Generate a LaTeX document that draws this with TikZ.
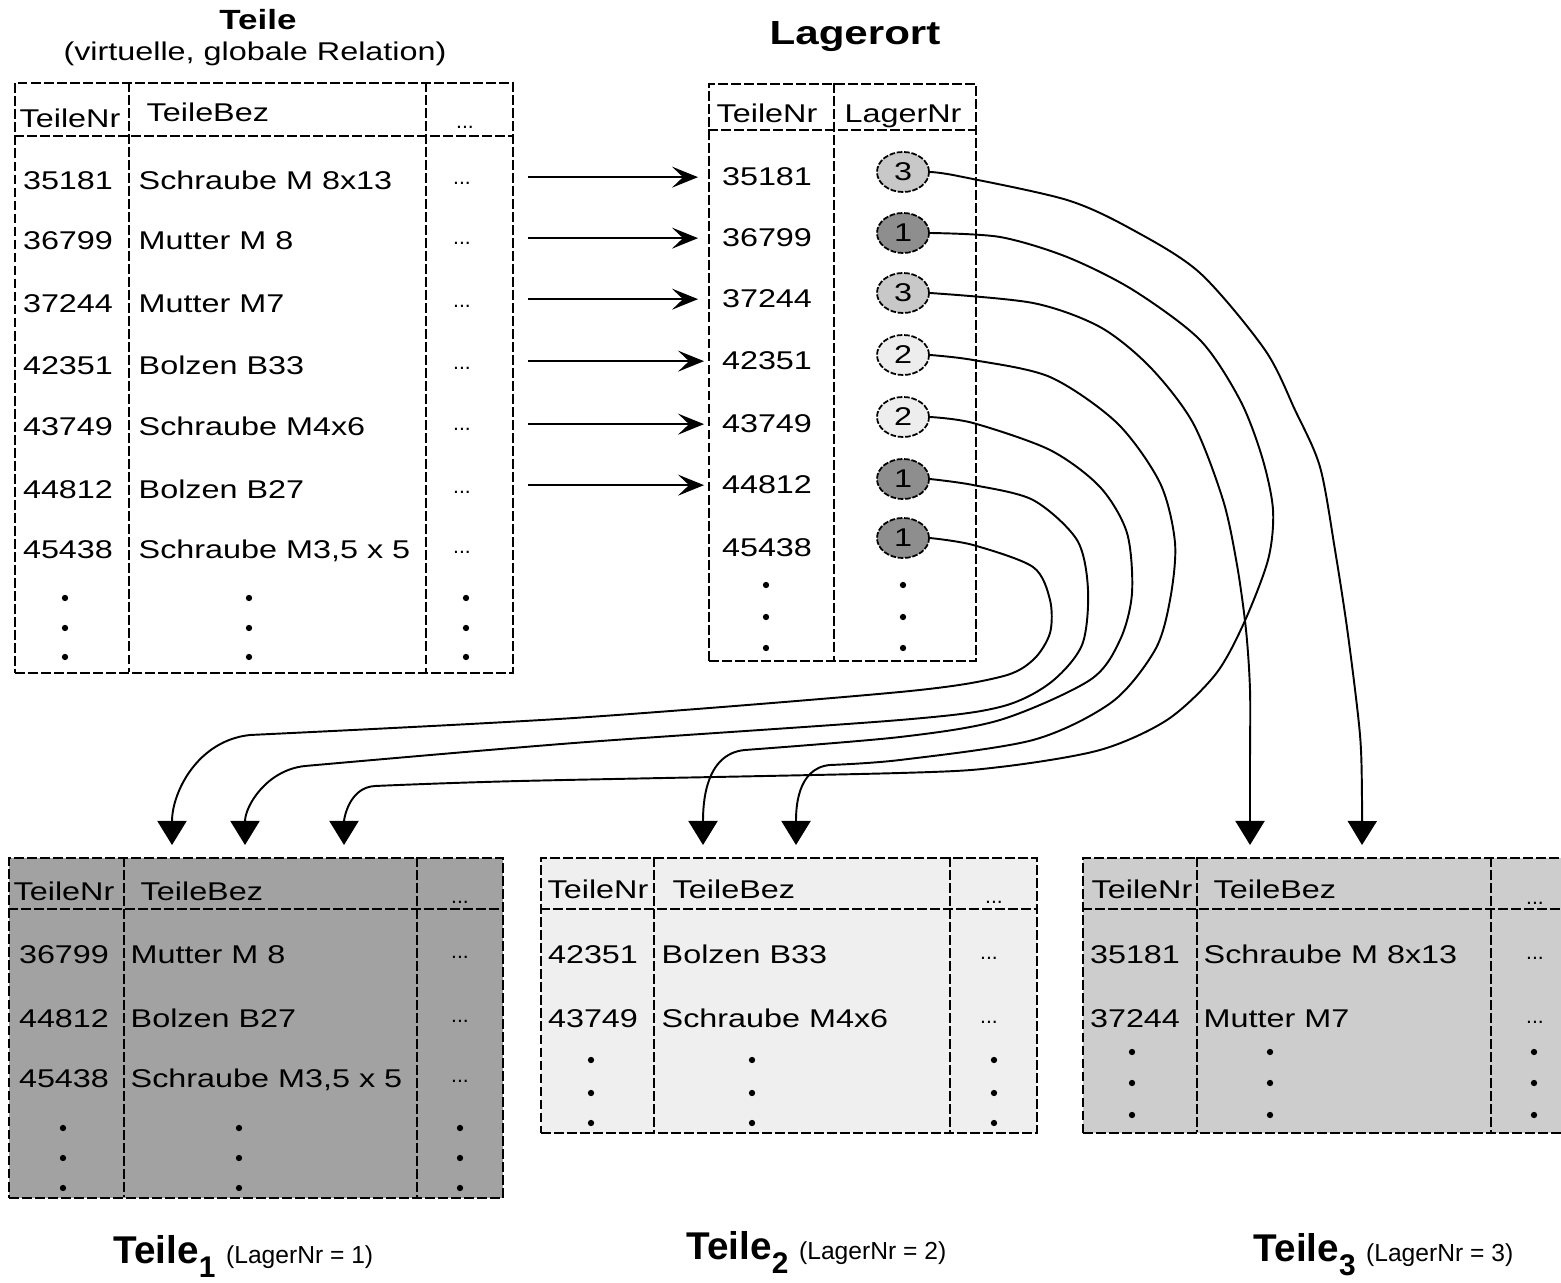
\documentclass[tikz,border=0pt]{standalone}
\usepackage{fontspec}
\setmainfont{Liberation Sans}
\newfontfamily\widesans[FakeStretch=1.26]{Liberation Sans}
\usepackage{tikz}
\usetikzlibrary{arrows.meta,shapes.geometric}
\definecolor{lager1}{HTML}{8E8E8E}
\definecolor{lager2}{HTML}{EDEDED}
\definecolor{lager3}{HTML}{C8C8C8}
\definecolor{fragA}{HTML}{A2A2A2}
\definecolor{fragB}{HTML}{EFEFEF}
\definecolor{fragC}{HTML}{CDCDCD}

\begin{document}
\begin{tikzpicture}[x=0.01cm,y=-0.01cm,
  font=\widesans\fontsize{7.3}{9}\selectfont,
  rel/.style={draw,line width=0.55pt,dash pattern=on 2.8pt off 0.9pt},
  tbl/.style={rel,anchor=north west,inner sep=0pt},
  txt/.style={inner sep=0pt,anchor=base},
  bez/.style={inner sep=0pt,anchor=base west},
  etc/.style={inner sep=0pt,font=\fontsize{6}{7}\selectfont},
  nr/.style={ellipse,draw,line width=0.5pt,dash pattern=on 1.6pt off 0.5pt,minimum width=0.52cm,minimum height=0.4cm,inner sep=0pt},
  lab/.style={inner sep=0pt,anchor=base west,font=\bfseries\fontsize{11}{13}\selectfont},
  arr/.style={-{Stealth[length=2.6mm,width=2.1mm,inset=1.1mm]},line width=0.6pt},
  link/.style={-{Triangle[length=2.4mm,width=2.9mm]},line width=0.55pt}]
\clip (0,0) rectangle (1561,1283);

% globale Relation
\node[font=\widesans\bfseries\fontsize{7.9}{9}\selectfont,inner sep=0pt] (t-teile) at (258,20) {Teile};
\node[inner sep=0pt] (t-virt) at (255,54) {(virtuelle, globale Relation)};
\node[tbl,fill=white,minimum width=4.98cm,minimum height=5.9cm] (teile) at (14,82) {};
\draw[rel] (129,82) -- (129,672) (426,82) -- (426,672) (14,136) -- (512,136);
\node[txt] (h-nr) at (70,128) {TeileNr};
\node[bez] (h-bez) at (146,122) {TeileBez};
\node[etc] (h-etc) at (465,127) {...};
\foreach \y/\nr/\bez [count=\i] in {190/35181/Schraube M 8x13, 250/36799/Mutter M 8, 313/37244/Mutter M7,
    375/42351/Bolzen B33, 436/43749/Schraube M4x6, 499/44812/Bolzen B27, 559/45438/{Schraube M3,5 x 5}}{
  \node[txt] (tnr\i) at (68,\y) {\nr};
  \node[bez] (tbez\i) at (138,\y) {\bez};
  \node[etc] (tetc\i) at (462,\y-7) {...};
}
\foreach \y in {598,628,657} \foreach \x in {65,249,466} \fill (\x,\y) circle[radius=0.9pt];

% Lagerort
\node[font=\widesans\bfseries\fontsize{9.5}{11}\selectfont,inner sep=0pt] (t-lager) at (855,37) {Lagerort};
\node[tbl,fill=white,minimum width=2.67cm,minimum height=5.77cm] (lager) at (708,83) {};
\draw[rel] (834,83) -- (834,660) (708,130) -- (975,130);
\node[txt] (l-nr) at (767,123) {TeileNr};
\node[txt] (l-lnr) at (903,123) {LagerNr};
\foreach \y/\nr/\l/\c/\ey [count=\i] in {186/35181/3/lager3/172, 247/36799/1/lager1/233, 308/37244/3/lager3/293,
    370/42351/2/lager2/355, 433/43749/2/lager2/417, 494/44812/1/lager1/479, 557/45438/1/lager1/538}{
  \node[txt] (lnr\i) at (767,\y) {\nr};
  \node[nr,fill=\c] (lag\i) at (903,\ey) {\l};
}
\foreach \y in {585,617,648} \foreach \x in {766,903} \fill (\x,\y) circle[radius=0.9pt];

% Zuordnung
\foreach \i/\e in {1/0.1,2/0.1,3/0.1,4/0.04,5/0.04,6/0.04}
  \draw[arr,shorten <=0.14cm,shorten >=\e cm] (teile.east |- lnr\i) -- (lager.west |- lnr\i);

% Fragmente
\node[tbl,fill=fragA,minimum width=4.94cm,minimum height=3.4cm] (teile1) at (8,857) {};
\draw[rel] (124,857) -- (124,1197) (417,857) -- (417,1197) (8,909) -- (502,909);
\node[txt] (f1-nr) at (64,900) {TeileNr};
\node[bez] (f1-bez) at (140,900) {TeileBez};
\node[etc] (f1-etc) at (460,902) {...};
\foreach \y/\nr/\bez [count=\i] in {963/36799/Mutter M 8, 1027/44812/Bolzen B27, 1087/45438/{Schraube M3,5 x 5}}{
  \node[txt] (f1nr\i) at (64,\y) {\nr};
  \node[bez] (f1bez\i) at (130,\y) {\bez};
  \node[etc] (f1etc\i) at (460,\y-6) {...};
}
\foreach \y in {1128,1158,1188} \foreach \x in {63,239,460} \fill (\x,\y) circle[radius=0.9pt];

\node[tbl,fill=fragB,minimum width=4.96cm,minimum height=2.75cm] (teile2) at (540,857) {};
\draw[rel] (654,857) -- (654,1132) (950,857) -- (950,1132) (540,909) -- (1036,909);
\node[txt] (f2-nr) at (598,898) {TeileNr};
\node[bez] (f2-bez) at (672,898) {TeileBez};
\node[etc] (f2-etc) at (994,902) {...};
\foreach \y/\nr/\bez [count=\i] in {963/42351/Bolzen B33, 1027/43749/Schraube M4x6}{
  \node[txt] (f2nr\i) at (593,\y) {\nr};
  \node[bez] (f2bez\i) at (661,\y) {\bez};
  \node[etc] (f2etc\i) at (989,\y-5) {...};
}
\foreach \y in {1060,1093,1123} \foreach \x in {591,752,994} \fill (\x,\y) circle[radius=0.9pt];

\node[tbl,fill=fragC,minimum width=5.1cm,minimum height=2.75cm] (teile3) at (1082,857) {};
\draw[rel] (1197,857) -- (1197,1132) (1491,857) -- (1491,1132) (1082,909) -- (1592,909);
\node[txt] (f3-nr) at (1142,898) {TeileNr};
\node[bez] (f3-bez) at (1213,898) {TeileBez};
\node[etc] (f3-etc) at (1535,903) {...};
\foreach \y/\nr/\bez [count=\i] in {963/35181/Schraube M 8x13, 1027/37244/Mutter M7}{
  \node[txt] (f3nr\i) at (1135,\y) {\nr};
  \node[bez] (f3bez\i) at (1203,\y) {\bez};
  \node[etc] (f3etc\i) at (1535,\y-5) {...};
}
\foreach \y in {1052,1083,1115} \foreach \x in {1132,1270,1534} \fill (\x,\y) circle[radius=0.9pt];

\node[lab] (lab1) at (113,1263) {Teile\raisebox{-4pt}{\fontsize{8.5}{9}\selectfont 1}\hspace{3pt}{\mdseries\fontsize{7}{8}\selectfont(LagerNr = 1)}};
\node[lab] (lab2) at (686,1259) {Teile\raisebox{-4pt}{\fontsize{8.5}{9}\selectfont 2}\hspace{3pt}{\mdseries\fontsize{7}{8}\selectfont(LagerNr = 2)}};
\node[lab] (lab3) at (1253,1261) {Teile\raisebox{-4pt}{\fontsize{8.5}{9}\selectfont 3}\hspace{3pt}{\mdseries\fontsize{7}{8}\selectfont(LagerNr = 3)}};

% Verteilung nach LagerNr
\coordinate (to1a) at (172,845);
\coordinate (to1b) at (245,845);
\coordinate (to1c) at (344,845);
\coordinate (to2a) at (703,845);
\coordinate (to2b) at (796,845);
\coordinate (to3a) at (1250,845);
\coordinate (to3b) at (1362,845);
\draw[link] plot[smooth] coordinates {(lag1.east) (958,176) (1067,200) (1133,230) (1200,273) (1265,350) (1295,410)
  (1320,467) (1335,550) (1348,635) (1360,735) (1362,800) (to3b)};
\draw[link] plot[smooth] coordinates {(lag2.east) (1000,237) (1067,257) (1133,290) (1200,340) (1240,400) (1262,457)
  (1273,510) (1268,560) (1243,625) (1215,675) (1167,720) (1100,750) (1000,767) (900,773) (520,781) (375,786)}
  to[out=183,in=90] (to1c);
\draw[link] plot[smooth] coordinates {(lag3.east) (1033,303) (1100,327) (1150,367) (1193,423) (1223,500) (1237,565)
  (1246,630) (1250,690) (1250,760) (to3a)};
\draw[link] plot[smooth] coordinates {(lag4.east) (973,360) (1050,377) (1117,423) (1160,483) (1175,543) (1170,600)
  (1155,650) (1112,702) (1033,740) (900,760) (830,765)} to[out=185,in=90] (to2b);
\draw[link] plot[smooth] coordinates {(lag5.east) (973,423) (1050,450) (1100,487) (1127,533) (1132,593) (1120,640)
  (1090,680) (1000,720) (900,737) (745,750)} to[out=185,in=90] (to2a);
\draw[link] plot[smooth] coordinates {(lag6.east) (973,485) (1033,500) (1077,540) (1088,590) (1082,645) (1050,683)
  (1000,707) (900,720) (574,743) (305,766)} to[out=186,in=90] (to1b);
\draw[link] plot[smooth] coordinates {(lag7.east) (973,545) (1033,567) (1050,600) (1050,633) (1033,660) (1000,677)
  (900,692) (574,718) (250,735)} to[out=186,in=90] (to1a);
\end{tikzpicture}
\end{document}
